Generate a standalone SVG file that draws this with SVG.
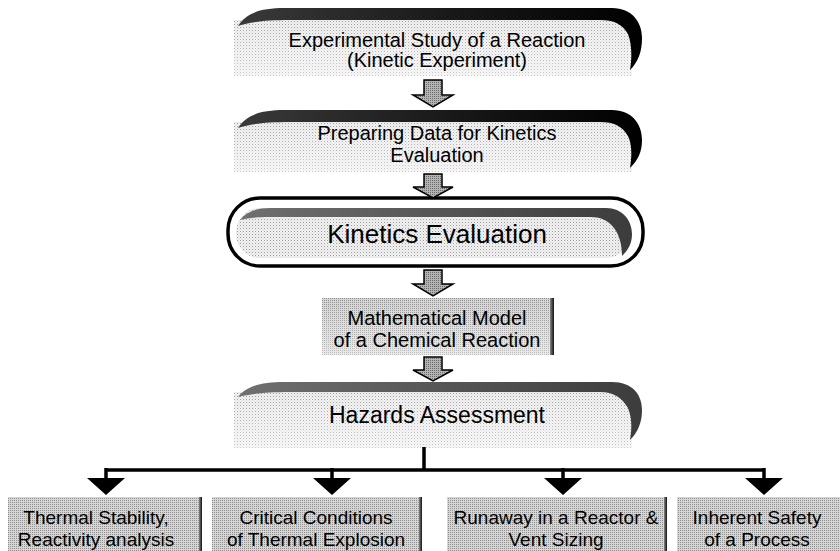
<svg xmlns="http://www.w3.org/2000/svg" width="840" height="551" viewBox="0 0 840 551">
<defs>
<pattern id="lite" width="3" height="3" patternUnits="userSpaceOnUse"><rect width="3" height="3" fill="#f1f1f1"/><rect width="1" height="1" fill="#9c9c9c"/><rect x="1.5" y="1.5" width="1" height="1" fill="#d0d0d0"/></pattern>
<pattern id="mid" width="2" height="2" patternUnits="userSpaceOnUse"><rect width="2" height="2" fill="#d6d6d6"/><rect width="1" height="1" fill="#8e8e8e"/></pattern>
<pattern id="arr" width="2" height="2" patternUnits="userSpaceOnUse"><rect width="2" height="2" fill="#b4b4b4"/><rect width="1" height="1" fill="#6a6a6a"/></pattern>
<linearGradient id="band" x1="0" y1="0" x2="1" y2="0"><stop offset="0" stop-color="#3a3a3a"/><stop offset="0.5" stop-color="#1a1a1a"/><stop offset="1" stop-color="#000"/></linearGradient>
<linearGradient id="bandG" x1="0" y1="0" x2="1" y2="0"><stop offset="0" stop-color="#707070"/><stop offset="1" stop-color="#3c3c3c"/></linearGradient>
<linearGradient id="fade" x1="0" y1="0" x2="0" y2="1"><stop offset="0" stop-color="#fff" stop-opacity="0"/><stop offset="1" stop-color="#fff" stop-opacity="0.45"/></linearGradient>
<linearGradient id="edge" x1="0" y1="0" x2="1" y2="0"><stop offset="0" stop-color="#888"/><stop offset="1" stop-color="#111"/></linearGradient>
</defs>
<style>
text{font-family:"Liberation Sans",Arial,sans-serif;fill:#000;text-anchor:middle}
.t20{font-size:20px}
.t19{font-size:19px}
.big{font-size:26px}
.haz{font-size:23px}
.arrow{fill:url(#arr);stroke:#000;stroke-width:1.5;stroke-linejoin:miter}
.line{fill:none;stroke:#000;stroke-width:3.5}
.head{fill:#000}
</style>

<g id="node-experimental">
<rect x="234" y="20" width="398" height="56" fill="url(#lite)"/>
<rect x="234" y="20" width="398" height="56" fill="url(#fade)"/>
<path d="M238,26 C246,14 258,8 285,8 L612,8 C632,8 642,22 642,38 C642,52 638,62 630,70 C632,58 632,44 628,34 C622,24 614,20 600,20 L290,20 C265,20 250,22 238,26 Z" fill="url(#band)"/>
<text class="t20" x="437" y="47">Experimental Study of a Reaction</text>
<text class="t20" x="437" y="67">(Kinetic Experiment)</text>
</g>

<g id="node-preparing">
<rect x="234" y="122" width="398" height="50" fill="url(#lite)"/>
<rect x="234" y="122" width="398" height="50" fill="url(#fade)"/>
<path d="M238,128 C246,116 258,110 285,110 L612,110 C632,110 642,124 642,140 C642,152 638,160 630,168 C632,156 632,144 628,136 C622,126 614,122 600,122 L290,122 C265,122 250,124 238,128 Z" fill="url(#band)"/>
<text class="t20" x="437" y="140">Preparing Data for Kinetics</text>
<text class="t20" x="437" y="162">Evaluation</text>
</g>

<g id="node-kinetics">
<rect x="228" y="198" width="415" height="68" rx="32" ry="32" fill="#fff" stroke="#000" stroke-width="3.5"/>
<rect x="236" y="208" width="394" height="50" rx="24" ry="24" fill="url(#lite)"/>
<path d="M240,220 C246,212 256,208 270,208 L606,208 C622,208 632,220 632,234 C632,244 628,250 622,256 C622,246 620,236 614,228 C608,220 600,217 590,217 L270,217 C256,217 248,218 240,220 Z" fill="url(#bandG)"/>
<text class="big" x="437" y="243">Kinetics Evaluation</text>
</g>

<g id="node-model">
<rect x="322" y="298" width="232" height="57" fill="url(#mid)"/>
<rect x="322" y="298" width="232" height="57" fill="url(#fade)"/>
<rect x="550" y="298" width="4" height="57" fill="url(#edge)"/>
<text class="t20" x="437" y="325">Mathematical Model</text>
<text class="t20" x="437" y="347">of a Chemical Reaction</text>
</g>

<g id="node-hazards">
<rect x="234" y="392" width="398" height="56" fill="url(#lite)"/>
<rect x="234" y="392" width="398" height="56" fill="url(#fade)"/>
<path d="M238,397 C246,387 258,382 285,382 L612,382 C632,382 642,394 642,410 C642,422 638,432 630,440 C632,428 632,418 628,408 C622,398 614,392 600,392 L290,392 C265,392 250,394 238,397 Z" fill="url(#bandG)"/>
<text class="haz" x="437" y="423">Hazards Assessment</text>
</g>

<g id="node-thermal">
<rect x="8" y="497" width="194" height="54" fill="url(#mid)"/>
<rect x="199" y="497" width="3" height="54" fill="url(#edge)"/>
<text class="t19" x="96" y="524">Thermal Stability,</text>
<text class="t19" x="96" y="546">Reactivity analysis</text>
</g>

<g id="node-critical">
<rect x="212" y="497" width="210" height="54" fill="url(#mid)"/>
<rect x="419" y="497" width="3" height="54" fill="url(#edge)"/>
<text class="t19" x="316" y="524">Critical Conditions</text>
<text class="t19" x="316" y="546">of Thermal Explosion</text>
</g>

<g id="node-runaway">
<rect x="447" y="497" width="220" height="54" fill="url(#mid)"/>
<rect x="664" y="497" width="3" height="54" fill="url(#edge)"/>
<text class="t19" x="556" y="524">Runaway in a Reactor &amp;</text>
<text class="t19" x="556" y="546">Vent Sizing</text>
</g>

<g id="node-inherent">
<rect x="677" y="497" width="163" height="54" fill="url(#mid)"/>
<text class="t19" x="757" y="524">Inherent Safety</text>
<text class="t19" x="757" y="546">of a Process</text>
</g>

<g id="connectors">
<path class="arrow" d="M424,80 L442,80 L442,95 L453,95 L433,107 L413,95 L424,95 Z"/>
<path class="arrow" d="M424,174 L442,174 L442,187 L453,187 L433,198 L413,187 L424,187 Z"/>
<path class="arrow" d="M424,270 L442,270 L442,284 L453,284 L433,296 L413,284 L424,284 Z"/>
<path class="arrow" d="M424,357 L442,357 L442,370 L453,370 L433,381 L413,370 L424,370 Z"/>
<path class="line" d="M424,447 V470 M106,470 H764 M106,468 V480 M332,468 V480 M563,468 V480 M764,468 V480"/>
<path class="head" d="M87,478 H125 L106,495 Z M313,478 H351 L332,495 Z M544,478 H582 L563,495 Z M745,478 H783 L764,495 Z"/>
</g>
</svg>
